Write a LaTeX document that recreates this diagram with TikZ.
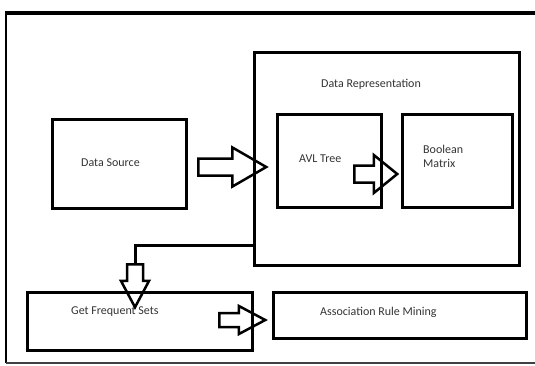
\documentclass[tikz,border=0pt]{standalone}
\usepackage{fontspec}
\setmainfont{Carlito}
\usepackage{tikz}
\usetikzlibrary{shapes,shapes.arrows,calc}
\tikzset{
  blk/.style={ draw, line width=3pt, inner sep=0pt }
}
\tikzset{
  txt/.style={ anchor=west, inner sep=0pt, text=black!80, font=\fontsize{12}{14}\selectfont }
}
\tikzset{
  barrow/.style={ single arrow, draw, line width=2.5pt, anchor=tail, single arrow head indent=0pt }
}

\begin{document}
\begin{tikzpicture}[x=1pt, y=-1pt]
      \useasboundingbox (0,0) rectangle (535,365);
      % outer frame
      \draw[line width=4pt] (535,13) -- (6,13);
      \draw[line width=2.5pt] (6,11) -- (6,363);
      \draw[line width=1.5pt, black!75] (6,363) -- (535,363);

      \node[blk, minimum width=134, minimum height=89] (ds) at (119,163.5) {};
      \node[blk, minimum width=265, minimum height=213] (dr) at (386.5,158.5) {};
      \node[blk, minimum width=104, minimum height=93] (avl) at (329,160.5) {};
      \node[blk, minimum width=110, minimum height=93] (bm) at (457,160.5) {};
      \node[blk, minimum width=225, minimum height=58] (gfs) at (139.5,321) {};
      \node[blk, minimum width=253, minimum height=46] (arm) at (399.5,315) {};

      \node[txt] (dstxt) at (81,163) {Data Source};
      \node[txt] (drtxt) at (321,84) {Data Representation};
      \node[txt] (avltxt) at (299,159) {AVL Tree};
      \node[txt, align=left] (bmtxt) at (423,156.5) {Boolean\\Matrix};
      \node[txt] (gfstxt) at (71,312) {Get Frequent Sets};
      \node[txt] (armtxt) at (320,312) {Association Rule Mining};

      \node[barrow, minimum height=68, inner xsep=0pt, inner ysep=7.25, single arrow head extend=11, single arrow tip angle=60] (a1) at (197,167) {};
      \node[barrow, minimum height=43, inner xsep=0pt, inner ysep=7.25, single arrow head extend=10.5, single arrow tip angle=78] (a2) at (353,174) {};
      \node[barrow, minimum height=43, inner ysep=0pt, inner xsep=6.75, single arrow head extend=6, single arrow tip angle=56, shape border rotate=270] (a3) at (135,263) {};
      \node[barrow, minimum height=46, inner xsep=0pt, inner ysep=5.75, single arrow head extend=7, single arrow tip angle=56] (a4) at (218,320) {};

      \coordinate (jn) at (254,245);
      \draw[line width=3pt] (jn) -| (a3.tail);
\end{tikzpicture}
\end{document}
